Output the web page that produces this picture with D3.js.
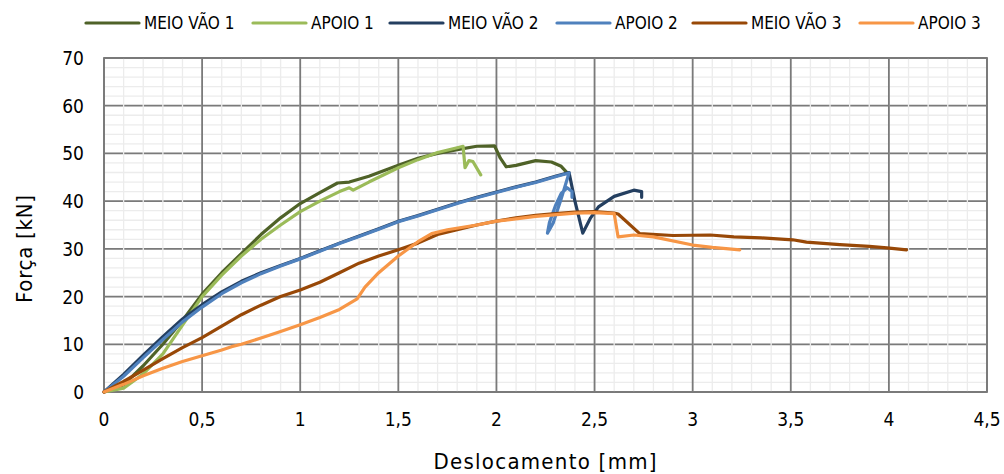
<!DOCTYPE html>
<html>
<head>
<meta charset="utf-8">
<script src="https://d3js.org/d3.v7.min.js"></script>
<style>
  body { margin: 0; background: #fff; }
  text { font-family: "DejaVu Sans Condensed", "Liberation Sans Narrow", sans-serif; fill: #000; }
</style>
</head>
<body>
<div class="vis"></div>
<script>
  // series: [deslocamento mm, força kN]
  var meioVao1 = [[0,0],[0.1,1.5],[0.2,5.5],[0.3,10],[0.4,15],[0.5,20.5],[0.6,25],[0.7,29],[0.8,33],[0.9,36.5],[1.0,39.5],[1.1,41.8],[1.19,43.8],[1.25,44],[1.35,45.2],[1.5,47.5],[1.6,49],[1.7,50],[1.8,50.8],[1.9,51.5],[1.99,51.6],[2.02,49],[2.05,47.2],[2.1,47.5],[2.2,48.5],[2.28,48.2],[2.33,47.3],[2.37,45.5]];
  var apoio1 = [[0,0],[0.1,0.8],[0.2,3.8],[0.3,8],[0.4,14],[0.5,20],[0.6,24.5],[0.7,28.5],[0.8,32],[0.9,35],[1.0,37.8],[1.1,40],[1.2,42],[1.25,42.8],[1.27,42.3],[1.35,44],[1.5,47],[1.6,48.7],[1.7,50.2],[1.8,51.2],[1.83,51.5],[1.84,47],[1.86,48.5],[1.88,48.3],[1.92,45.5]];
  var meioVao2 = [[0,0],[0.1,3.7],[0.2,7.7],[0.3,11.6],[0.4,15.3],[0.5,18.3],[0.6,21],[0.7,23.2],[0.8,25],[0.9,26.5],[1.0,28],[1.1,29.6],[1.2,31.2],[1.3,32.7],[1.4,34.2],[1.5,35.8],[1.6,37],[1.7,38.3],[1.8,39.6],[1.9,40.8],[2.0,41.9],[2.1,43],[2.2,44],[2.3,45.2],[2.37,46],[2.4,40],[2.44,33.3],[2.48,36.5],[2.52,38.8],[2.6,41],[2.7,42.3],[2.74,42],[2.74,40.8]];
  var apoio2 = [[0,0],[0.1,3.3],[0.2,7.2],[0.3,11],[0.4,14.7],[0.5,17.8],[0.6,20.6],[0.7,22.9],[0.8,24.8],[0.9,26.4],[1.0,27.9],[1.1,29.5],[1.2,31.1],[1.3,32.6],[1.4,34.1],[1.5,35.7],[1.6,36.9],[1.7,38.2],[1.8,39.5],[1.9,40.7],[2.0,41.8],[2.1,42.9],[2.2,43.9],[2.3,45.1],[2.37,45.9],[2.33,40.5],[2.29,35.5],[2.26,33.3],[2.27,35.5],[2.3,39],[2.33,41.6],[2.36,42.8],[2.385,42],[2.385,40.8]];
  var meioVao3 = [[0,0],[0.1,2.2],[0.2,4.6],[0.3,7],[0.4,9.3],[0.5,11.4],[0.6,13.8],[0.7,16.2],[0.8,18.2],[0.9,20],[1.0,21.4],[1.1,23],[1.2,25],[1.3,27],[1.4,28.5],[1.5,29.8],[1.6,31.2],[1.7,33],[1.8,34],[1.9,35],[2.0,35.8],[2.1,36.5],[2.2,37],[2.3,37.4],[2.4,37.7],[2.5,37.8],[2.6,37.5],[2.62,37.3],[2.73,33.2],[2.9,32.8],[3.09,32.9],[3.21,32.5],[3.35,32.3],[3.51,31.9],[3.58,31.4],[3.75,30.9],[3.9,30.5],[3.99,30.2],[4.09,29.8]];
  var apoio3 = [[0,0],[0.1,1.6],[0.2,3.4],[0.3,5],[0.4,6.4],[0.5,7.6],[0.6,8.8],[0.65,9.5],[0.7,10],[0.8,11.3],[0.9,12.7],[1.0,14.1],[1.1,15.6],[1.2,17.3],[1.29,19.5],[1.33,22],[1.4,25],[1.5,28.5],[1.6,31.5],[1.67,33.2],[1.75,34],[1.9,35],[2.0,35.8],[2.2,36.8],[2.4,37.5],[2.5,37.6],[2.6,37.4],[2.62,32.5],[2.7,32.9],[2.8,32.5],[3.0,30.8],[3.1,30.3],[3.24,29.8]];

  var seriesNames = ["MEIO VÃO 1", "APOIO 1", "MEIO VÃO 2", "APOIO 2", "MEIO VÃO 3", "APOIO 3"];
  var seriesData = [meioVao1, apoio1, meioVao2, apoio2, meioVao3, apoio3];
  var seriesColors = ["#4F6228", "#9BBB59", "#243F60", "#4F81BD", "#984807", "#F79646"];

  var xTicks = [0, 0.5, 1, 1.5, 2, 2.5, 3, 3.5, 4, 4.5];
  var yTicks = [0, 10, 20, 30, 40, 50, 60, 70];

  var width = 1004, height = 474;
  var plotLeft = 104, plotRight = 987, plotTop = 58, plotBottom = 392;

  var svg = d3.select('.vis').append('svg')
    .attr('width', width)
    .attr('height', height);

  var x = d3.scaleLinear().domain([0, 4.5]).range([plotLeft, plotRight]);
  var y = d3.scaleLinear().domain([0, 70]).range([plotBottom, plotTop]);

  var minorX = d3.range(0, 4.5001, 0.1);
  var minorY = d3.range(0, 70.001, 2);

  // minor horizontal grid
  svg.append('g').selectAll('line').data(minorY).join('line')
    .attr('x1', plotLeft).attr('x2', plotRight)
    .attr('y1', d => y(d)).attr('y2', d => y(d))
    .attr('stroke', '#ececec').attr('stroke-width', 1.3);

  // major horizontal grid
  svg.append('g').selectAll('line').data(yTicks).join('line')
    .attr('x1', plotLeft).attr('x2', plotRight)
    .attr('y1', d => y(d)).attr('y2', d => y(d))
    .attr('stroke', '#7a7a7a').attr('stroke-width', 1.8);

  // minor vertical grid (drawn over the major horizontals, like the original)
  svg.append('g').selectAll('line').data(minorX).join('line')
    .attr('x1', d => x(d)).attr('x2', d => x(d))
    .attr('y1', plotTop).attr('y2', plotBottom)
    .attr('stroke', '#ececec').attr('stroke-width', 1.3);

  // major vertical grid
  svg.append('g').selectAll('line').data(xTicks).join('line')
    .attr('x1', d => x(d)).attr('x2', d => x(d))
    .attr('y1', plotTop).attr('y2', plotBottom)
    .attr('stroke', '#7a7a7a').attr('stroke-width', 1.8);

  // frame
  svg.append('rect')
    .attr('x', plotLeft).attr('y', plotTop)
    .attr('width', plotRight - plotLeft).attr('height', plotBottom - plotTop)
    .attr('fill', 'none').attr('stroke', '#7a7a7a').attr('stroke-width', 1.8);

  // lines
  var line = d3.line().x(d => x(d[0])).y(d => y(d[1]));
  seriesData.forEach(function (s, i) {
    svg.append('path')
      .attr('d', line(s))
      .attr('fill', 'none')
      .attr('stroke', seriesColors[i])
      .attr('stroke-width', 3.2)
      .attr('stroke-linejoin', 'round')
      .attr('stroke-linecap', 'round');
  });

  // tick labels
  svg.append('g').selectAll('text').data(xTicks).join('text')
    .attr('x', d => x(d)).attr('y', 426)
    .attr('text-anchor', 'middle')
    .attr('font-size', 19)
    .text(d => String(d).replace('.', ','));

  svg.append('g').selectAll('text').data(yTicks).join('text')
    .attr('x', 84).attr('y', d => y(d) + 7)
    .attr('text-anchor', 'end')
    .attr('font-size', 19)
    .text(d => d);

  // axis titles
  svg.append('text')
    .attr('x', 545).attr('y', 469)
    .attr('text-anchor', 'middle')
    .attr('font-size', 22)
    .attr('textLength', 223)
    .text('Deslocamento [mm]');

  svg.append('text')
    .attr('transform', 'translate(32,249) rotate(-90)')
    .attr('text-anchor', 'middle')
    .attr('font-size', 22)
    .attr('textLength', 108)
    .text('Força [kN]');

  // legend
  var legendX = [86, 253, 390, 557, 693, 860];
  seriesNames.forEach(function (n, i) {
    var g = svg.append('g');
    g.append('line')
      .attr('x1', legendX[i]).attr('x2', legendX[i] + 53)
      .attr('y1', 23).attr('y2', 23)
      .attr('stroke', seriesColors[i]).attr('stroke-width', 3.2)
      .attr('stroke-linecap', 'round');
    g.append('text')
      .attr('x', legendX[i] + 58).attr('y', 29)
      .attr('font-size', 17)
      .text(n);
  });
</script>
</body>
</html>
